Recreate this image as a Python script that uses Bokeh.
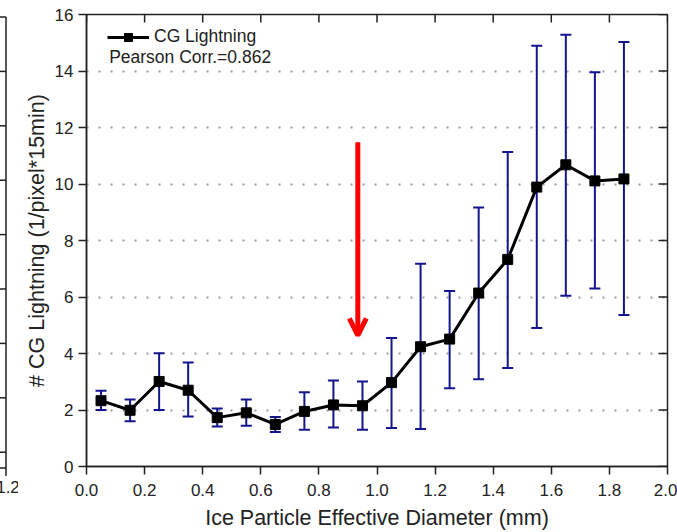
from bokeh.plotting import figure
from bokeh.models import (Range1d, FixedTicker, Whisker, TeeHead, Arrow,
                          OpenHead, Legend, LegendItem, Label, ColumnDataSource,
                          PrintfTickFormatter, Div)
from bokeh.layouts import row
from bokeh.embed import file_html
from bokeh.resources import INLINE

# ---- data ----
diameter = [0.05, 0.15, 0.25, 0.35, 0.45, 0.55, 0.65, 0.75, 0.85, 0.95,
            1.05, 1.15, 1.25, 1.35, 1.45, 1.55, 1.65, 1.75, 1.85]
cg_lightning = [2.33, 1.99, 3.01, 2.70, 1.73, 1.90, 1.49, 1.95, 2.18, 2.15,
                2.97, 4.24, 4.51, 6.14, 7.33, 9.89, 10.68, 10.11, 10.18]
err_upper = [2.68, 2.37, 4.01, 3.68, 2.05, 2.37, 1.75, 2.63, 3.04, 3.01,
             4.55, 7.18, 6.21, 9.17, 11.13, 14.89, 15.28, 13.96, 15.03]
err_lower = [2.00, 1.60, 2.00, 1.77, 1.42, 1.44, 1.22, 1.30, 1.38, 1.30,
             1.36, 1.33, 2.77, 3.09, 3.49, 4.90, 6.04, 6.30, 5.36]
x_ticks = [0.0, 0.2, 0.4, 0.6, 0.8, 1.0, 1.2, 1.4, 1.6, 1.8, 2.0]
y_ticks = [0, 2, 4, 6, 8, 10, 12, 14, 16]
x_title = "Ice Particle Effective Diameter (mm)"
y_title = "# CG Lightning (1/pixel*15min)"
series_name = "CG Lightning"
corr_text = "Pearson Corr.=0.862"
arrow_x = 0.934
arrow_top = 11.48
arrow_tip = 4.64
# fragment of the neighbouring panel at the far left (its own tick values)
frag_label = "1.2"
frag_y_ticks = [0, 1, 2, 3, 4, 5, 6, 7, 8]

FONT = "Liberation Sans"
AX = "#222222"
NAVY = "#14148c"

X0, X1, Y0, Y1 = 0.0, 2.0, 0.0, 16.0
FRAME_W, FRAME_H = 581, 452
PX_X = FRAME_W / (X1 - X0)
PX_Y = FRAME_H / (Y1 - Y0)
TOP, BOTTOM = 14, 66

# ---- neighbouring panel fragment, drawn as a small inline SVG ----
FW = 18
frag_step = 54.4     # px between its y ticks
frag_zero = 452.2    # px (from page top) of its tick 0
frag_top, frag_bottom, edge_x = 17, 468, 6
lines = []
for v in frag_y_ticks:
    yy = frag_zero - frag_step * v
    lines.append(f'<line x1="0" x2="{edge_x}" y1="{yy:.1f}" y2="{yy:.1f}"/>')
lines.append(f'<line x1="0" x2="{edge_x}" y1="{frag_bottom}" y2="{frag_bottom}"/>')
lines.append(f'<line x1="{edge_x}" x2="{edge_x}" y1="{frag_top}" y2="{frag_bottom + 8}"/>')
svg = (f'<svg xmlns="http://www.w3.org/2000/svg" width="{FW}" height="532" '
       f'style="display:block;overflow:hidden">'
       f'<g stroke="{AX}" stroke-width="1.5">' + "".join(lines) + '</g>'
       f'<text x="8" y="493" text-anchor="middle" font-family="{FONT}" '
       f'font-size="17" fill="{AX}">{frag_label}</text></svg>')
frag = Div(text=svg, width=FW, height=532, margin=0,
           styles={"padding": "0", "margin": "0", "overflow": "hidden"})

# ---- main chart ----
p = figure(width=677 - FW, height=532,
           x_range=Range1d(X0, X1), y_range=Range1d(Y0, Y1),
           min_border_left=68, min_border_right=10, min_border_top=TOP, min_border_bottom=BOTTOM,
           toolbar_location=None, output_backend="svg")
p.background_fill_color = "white"
p.border_fill_color = "white"
p.outline_line_color = AX
p.outline_line_width = 1.5

p.xgrid.visible = False
p.ygrid.ticker = FixedTicker(ticks=y_ticks)
p.ygrid.grid_line_color = "#9a9a9a"
p.ygrid.grid_line_width = 2
p.ygrid.grid_line_dash = "2 10"

for ax in (p.xaxis[0], p.yaxis[0]):
    ax.axis_line_color = AX
    ax.axis_line_width = 1.5
    ax.major_tick_line_color = AX
    ax.major_tick_line_width = 1.5
    ax.major_tick_out = 8
    ax.major_tick_in = 0
    ax.minor_tick_line_color = None
    ax.major_label_text_font = FONT
    ax.major_label_text_font_size = "17px"
    ax.major_label_text_color = AX
    ax.axis_label_text_font = FONT
    ax.axis_label_text_font_size = "21.5px"
    ax.axis_label_text_font_style = "normal"
    ax.axis_label_text_color = AX

p.xaxis[0].ticker = FixedTicker(ticks=x_ticks)
p.xaxis[0].formatter = PrintfTickFormatter(format="%.1f")
p.xaxis[0].major_label_standoff = 9
p.xaxis[0].axis_label = x_title
p.xaxis[0].axis_label_standoff = 7
p.yaxis[0].ticker = FixedTicker(ticks=y_ticks)
p.yaxis[0].major_label_standoff = 5
p.yaxis[0].axis_label = y_title
p.yaxis[0].axis_label_standoff = 3

# inward ticks on the top and right frame edges
tick_len_y = 8 / PX_Y
tick_len_x = 9 / PX_X
p.segment(x0=x_ticks, x1=x_ticks, y0=[Y1] * len(x_ticks), y1=[Y1 - tick_len_y] * len(x_ticks),
          line_color=AX, line_width=1.5)
p.segment(x0=[X1] * len(y_ticks), x1=[X1 - tick_len_x] * len(y_ticks), y0=y_ticks, y1=y_ticks,
          line_color=AX, line_width=1.5)

src = ColumnDataSource(dict(x=diameter, y=cg_lightning, up=err_upper, lo=err_lower))

whisk = Whisker(base="x", upper="up", lower="lo", source=src, dimension="height",
                line_color=NAVY, line_width=2, level="underlay",
                upper_head=TeeHead(size=11, line_color=NAVY, line_width=2),
                lower_head=TeeHead(size=11, line_color=NAVY, line_width=2))
p.add_layout(whisk)

ln = p.line("x", "y", source=src, line_color="black", line_width=3)
sq = p.scatter("x", "y", source=src, marker="square", size=10,
               fill_color="black", line_color="black")

legend = Legend(items=[LegendItem(label=series_name, renderers=[ln, sq])],
                location=(21, 419), margin=0, padding=0,
                glyph_width=42, glyph_height=20, label_height=20,
                label_standoff=5, spacing=0,
                background_fill_alpha=0, border_line_color=None,
                label_text_font=FONT, label_text_font_size="17.5px",
                label_text_color=AX)
p.add_layout(legend)

p.add_layout(Label(x=0.078, y=14.48, text=corr_text, text_font=FONT,
                   text_font_size="17.5px", text_color=AX, text_baseline="middle"))

p.add_layout(Arrow(end=OpenHead(line_color="red", line_width=5, size=17),
                   x_start=arrow_x, y_start=arrow_top, x_end=arrow_x, y_end=arrow_tip,
                   line_color="red", line_width=5))

layout = row(frag, p, spacing=0)
open("out.html", "w").write(file_html(layout, INLINE))
